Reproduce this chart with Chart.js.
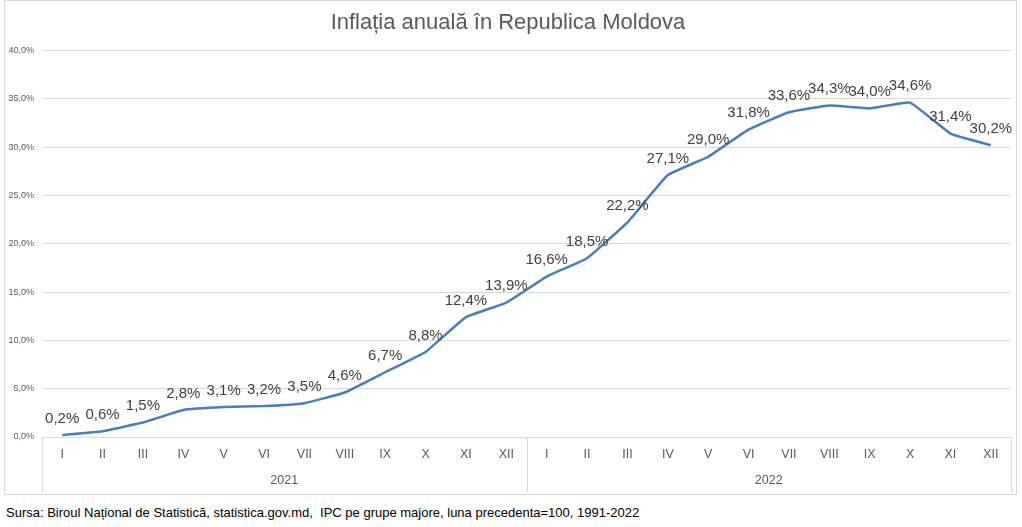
<!DOCTYPE html>
<html>
<head>
<meta charset="utf-8">
<script src="https://cdn.jsdelivr.net/npm/chart.js@4/dist/chart.umd.min.js"></script>
<style>
  body { margin: 0; background: #fff; }
  #cadru { position: absolute; left: 4px; top: 0; width: 1013px; height: 495px; border: 1px solid #d9d9d9; box-sizing: border-box; }
  #sursa { position: absolute; left: 6px; top: 505px; font: 13px "Liberation Sans", Arial, sans-serif; color: #000; white-space: pre; }
</style>
</head>
<body>
<div id="cadru"><canvas id="grafic" width="1011" height="493"></canvas></div>
<div id="sursa">Sursa: Biroul Național de Statistică, statistica.gov.md,  IPC pe grupe majore, luna precedenta=100, 1991-2022</div>
<script>
// date
const luni = ['I', 'II', 'III', 'IV', 'V', 'VI', 'VII', 'VIII', 'IX', 'X', 'XI', 'XII'];
const ani = ['2021', '2022'];
const inflatie = [0.2, 0.6, 1.5, 2.8, 3.1, 3.2, 3.5, 4.6, 6.7, 8.8, 12.4, 13.9,
                  16.6, 18.5, 22.2, 27.1, 29.0, 31.8, 33.6, 34.3, 34.0, 34.6, 31.4, 30.2];
const etichete = ani.flatMap(() => luni);

const gri = '#595959';
const fmt = v => v.toFixed(1).replace('.', ',') + '%';

// etichetele valorilor deasupra punctelor
const eticheteValori = {
    id: 'eticheteValori',
    afterDatasetsDraw(chart) {
        const ctx = chart.ctx;
        const meta = chart.getDatasetMeta(0);
        ctx.save();
        ctx.font = '15px "Liberation Sans", Arial, sans-serif';
        ctx.fillStyle = '#404040';
        ctx.textAlign = 'center';
        ctx.textBaseline = 'bottom';
        meta.data.forEach((p, i) => {
            ctx.fillText(fmt(inflatie[i]), p.x, p.y - 9);
        });
        ctx.restore();
    }
};

// al doilea rand de categorii (anii) si separatoarele
const grupeAni = {
    id: 'grupeAni',
    afterDraw(chart) {
        const ctx = chart.ctx;
        const x = chart.scales.x;
        const lat = (x.right - x.left) / etichete.length;
        const sus = x.top;
        const jos = x.bottom;
        ctx.save();
        ctx.strokeStyle = '#d9d9d9';
        ctx.lineWidth = 1;
        for (let g = 0; g <= ani.length; g++) {
            const px = Math.round(x.left + g * luni.length * lat) + 0.5;
            ctx.beginPath();
            ctx.moveTo(px, sus);
            ctx.lineTo(px, jos);
            ctx.stroke();
        }
        ctx.font = '12.5px "Liberation Sans", Arial, sans-serif';
        ctx.fillStyle = gri;
        ctx.textAlign = 'center';
        ctx.textBaseline = 'middle';
        ani.forEach((an, g) => {
            const c = x.getPixelForValue(g * luni.length) - lat / 2 + luni.length * lat / 2;
            ctx.fillText(an, c, jos - 11);
        });
        ctx.restore();
    }
};

new Chart(document.getElementById('grafic'), {
    type: 'line',
    data: {
        labels: etichete,
        datasets: [{
            data: inflatie,
            borderColor: '#4a7ebb',
            borderWidth: 2.5,
            pointRadius: 0,
            tension: 0.1,
            fill: false
        }]
    },
    options: {
        responsive: false,
        animation: false,
        devicePixelRatio: 1,
        layout: { padding: { left: 0, right: 5, top: 5, bottom: 2 } },
        plugins: {
            legend: { display: false },
            tooltip: { enabled: false },
            title: {
                display: true,
                text: 'Inflația anuală în Republica Moldova',
                color: gri,
                font: { size: 22, family: '"Liberation Sans", Arial, sans-serif', weight: 'normal' },
                padding: { top: 4, bottom: 14 }
            }
        },
        scales: {
            x: {
                offset: true,
                grid: { display: false, drawTicks: false },
                border: { display: false },
                ticks: {
                    color: gri,
                    font: { size: 12.5, family: '"Liberation Sans", Arial, sans-serif' },
                    padding: 10,
                    maxRotation: 0,
                    autoSkip: false
                },
                afterFit(scale) { scale.height = 55; }
            },
            y: {
                min: 0,
                max: 40,
                ticks: {
                    stepSize: 5,
                    color: gri,
                    font: { size: 9, family: '"Liberation Sans", Arial, sans-serif' },
                    padding: 8,
                    callback: v => fmt(v)
                },
                grid: { color: '#d9d9d9', drawTicks: false },
                border: { display: false },
                afterFit(scale) { scale.width = 37; }
            }
        }
    },
    plugins: [eticheteValori, grupeAni]
});
</script>
</body>
</html>
